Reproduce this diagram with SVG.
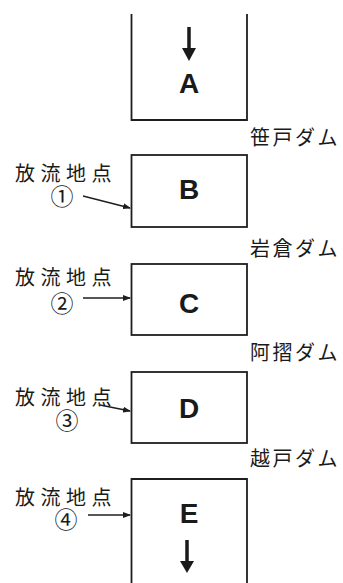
<svg xmlns="http://www.w3.org/2000/svg" width="343" height="583" viewBox="0 0 343 583">
<defs>
<style>
.box{fill:none;stroke:#1e1e1e;stroke-width:1.8}
.let{font-family:"Liberation Sans",Arial,sans-serif;font-weight:bold;font-size:28px;fill:#1a1a1a;text-anchor:middle}
.jp{font-family:"Noto Sans CJK JP","Noto Sans",sans-serif;font-size:20px;fill:#1a1a1a;letter-spacing:2.5px}
.pt{letter-spacing:5.5px}
.num{font-family:"Noto Sans CJK JP","Noto Sans",sans-serif;font-size:23px;fill:#1a1a1a;text-anchor:middle}
.con{stroke:#1e1e1e;stroke-width:1.3;fill:none}
.flow{stroke:#1a1a1a;stroke-width:3.5;fill:none}
</style>
<marker id="ah" markerWidth="8" markerHeight="6" refX="7" refY="3" orient="auto" markerUnits="userSpaceOnUse">
<path d="M0,0 L8,3 L0,6 Z" fill="#1e1e1e"/>
</marker>
</defs>
<g id="nodeA">
<path class="box" d="M131.5,14 V120 H247 V14"/>
<line class="flow" x1="189" y1="27" x2="189" y2="50"/>
<path d="M182,48 L196,48 L189,61 Z" fill="#1a1a1a"/>
<text class="let" x="189" y="93">A</text>
</g>
<g id="nodeB">
<rect class="box" x="131.5" y="155" width="115.5" height="72"/>
<text class="let" x="189" y="199">B</text>
</g>
<g id="nodeC">
<rect class="box" x="131.5" y="264" width="115.5" height="71"/>
<text class="let" x="189" y="313">C</text>
</g>
<g id="nodeD">
<rect class="box" x="131.5" y="372" width="115.5" height="71"/>
<text class="let" x="189" y="418">D</text>
</g>
<g id="nodeE">
<path class="box" d="M131.5,583 V479 H247 V583"/>
<text class="let" x="189" y="523">E</text>
<line class="flow" x1="187" y1="540" x2="187" y2="563"/>
<path d="M180,561 L194,561 L187,573 Z" fill="#1a1a1a"/>
</g>
<g id="dams">
<text class="jp" x="250" y="145">笹戸ダム</text>
<text class="jp" x="250" y="256">岩倉ダム</text>
<text class="jp" x="250" y="360">阿摺ダム</text>
<text class="jp" x="250" y="466">越戸ダム</text>
</g>
<g id="point1">
<text class="jp pt" x="15" y="181">放流地点</text>
<text class="num" x="62" y="205">①</text>
</g>
<g id="point2">
<text class="jp pt" x="15" y="285">放流地点</text>
<text class="num" x="62" y="312">②</text>
</g>
<g id="point3">
<text class="jp pt" x="15" y="405">放流地点</text>
<text class="num" x="67" y="429">③</text>
</g>
<g id="point4">
<text class="jp pt" x="15" y="505">放流地点</text>
<text class="num" x="66" y="528">④</text>
</g>
<g id="connectors">
<line class="con" x1="83" y1="196" x2="130" y2="208" marker-end="url(#ah)"/>
<line class="con" x1="83" y1="298" x2="130" y2="298" marker-end="url(#ah)"/>
<line class="con" x1="100" y1="405" x2="130" y2="411" marker-end="url(#ah)"/>
<line class="con" x1="88" y1="515" x2="130" y2="515" marker-end="url(#ah)"/>
</g>
</svg>
